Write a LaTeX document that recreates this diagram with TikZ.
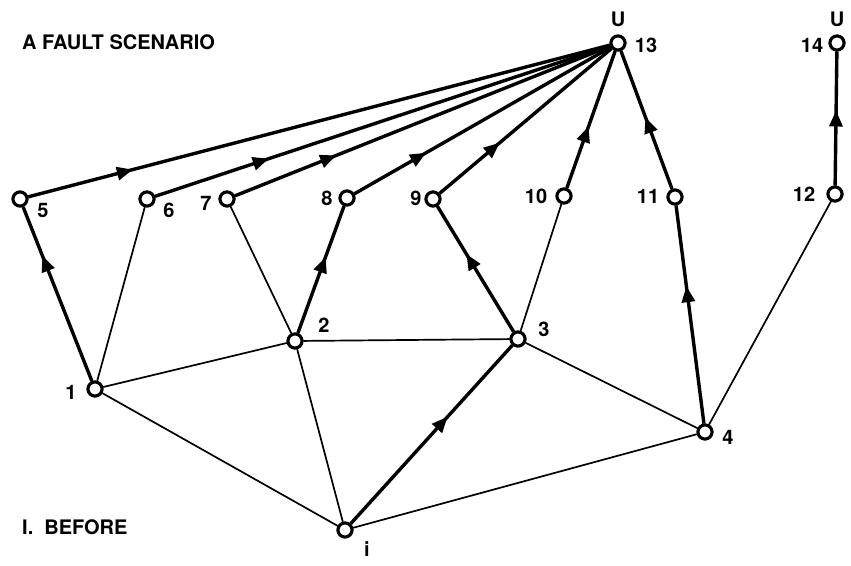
\documentclass[tikz,border=0pt]{standalone}
\usepackage{fontspec}
\usepackage{tikz}
\usetikzlibrary{arrows.meta,decorations.markings}
\setmainfont{TeX Gyre Heros}

\begin{document}
\begin{tikzpicture}[x=1pt, y=-1pt,
  vertex/.style={draw, circle, line width=3pt, inner sep=0pt, minimum size=14pt, fill=white},
  lab/.style={font=\bfseries\fontsize{20}{20}\selectfont, inner sep=0pt},
  thin/.style={line width=1.7pt},
  heavy/.style={line width=3.4pt},
  flow/.style={heavy, postaction={decorate}, decoration={markings, mark=at position #1 with {\arrow{Triangle[length=16pt, width=13pt]}}}}]
				\useasboundingbox (0,0) rectangle (851,565);
				\node (title) at (22,42) [lab, anchor=west] {A FAULT SCENARIO};
				\node (before) at (22,527) [lab, anchor=west] {I.\ \ BEFORE};
				
				\node (n13) at (618,43) [vertex] {};
				\node (n14) at (837,43) [vertex] {};
				\node (n5) at (20,199) [vertex] {};
				\node (n6) at (147,199) [vertex] {};
				\node (n7) at (227,199) [vertex] {};
				\node (n8) at (347,198) [vertex] {};
				\node (n9) at (433,199) [vertex] {};
				\node (n10) at (564,196) [vertex] {};
				\node (n11) at (675,197) [vertex] {};
				\node (n12) at (835,194) [vertex] {};
				\node (n1) at (95,389) [vertex] {};
				\node (n2) at (295,341) [vertex] {};
				\node (n3) at (518,339) [vertex] {};
				\node (n4) at (705,432) [vertex] {};
				\node (ni) at (345,530) [vertex] {};
				
				\node (u13) at (618,19) [lab] {U};
				\node (u14) at (837,19) [lab] {U};
				\node (l13) at (646,45) [lab] {13};
				\node (l14) at (812,45) [lab] {14};
				\node (l5) at (43,210) [lab] {5};
				\node (l6) at (169,210) [lab] {6};
				\node (l7) at (206,203) [lab] {7};
				\node (l8) at (327,198) [lab] {8};
				\node (l9) at (416,198) [lab] {9};
				\node (l10) at (536,196) [lab] {10};
				\node (l11) at (648,196) [lab] {11};
				\node (l12) at (804,194) [lab] {12};
				\node (l1) at (71,392) [lab] {1};
				\node (l2) at (324,325) [lab] {2};
				\node (l3) at (544,329) [lab] {3};
				\node (l4) at (728,437) [lab] {4};
				\node (li) at (367,549) [lab] {i};
				
				% plain links
				\draw[thin] (n1) -- (n6);
				\draw[thin] (n1) -- (n2);
				\draw[thin] (n1) -- (ni);
				\draw[thin] (n2) -- (n7);
				\draw[thin] (n2) -- (n3);
				\draw[thin] (n2) -- (ni);
				\draw[thin] (n3) -- (n10);
				\draw[thin] (n3) -- (n4);
				\draw[thin] (ni) -- (n4);
				\draw[thin] (n4) -- (n12);
				
				% routes towards U
				\draw[flow=0.18] (n5) -- (n13);
				\draw[flow=0.25] (n6) -- (n13);
				\draw[flow=0.27] (n7) -- (n13);
				\draw[flow=0.28] (n8) -- (n13);
				\draw[flow=0.35] (n9) -- (n13);
				\draw[flow=0.45] (n10) -- (n13);
				\draw[flow=0.52] (n11) -- (n13);
				\draw[flow=0.56] (n12) -- (n14);
				\draw[flow=0.72] (n1) -- (n5);
				\draw[flow=0.6] (n2) -- (n8);
				\draw[flow=0.62] (n3) -- (n9);
				\draw[flow=0.6] (ni) -- (n3);
				\draw[flow=0.63] (n4) -- (n11);
				
				% circles over the lines
				\foreach \v in {n1,n2,n3,n4,n5,n6,n7,n8,n9,n10,n11,n12,n13,n14,ni}
				  \node at (\v) [vertex] {};
			\end{tikzpicture}
\end{document}
